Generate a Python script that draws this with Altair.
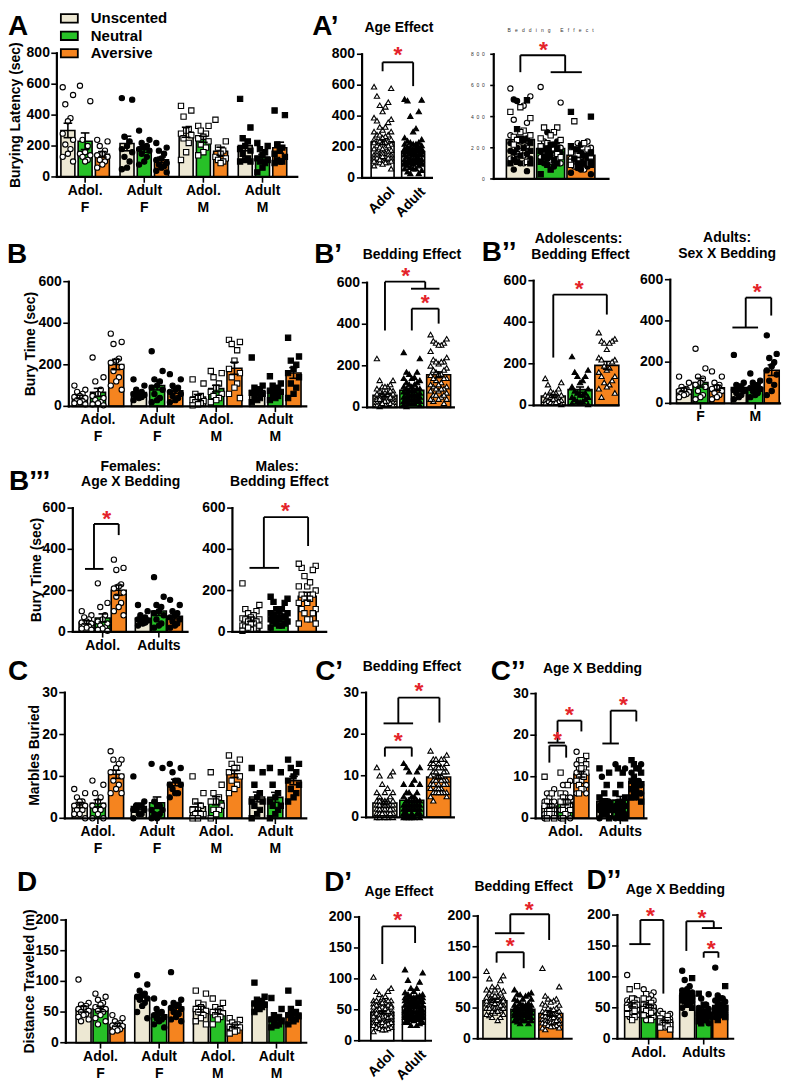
import altair as alt
import pandas as pd

# ---------------- values ----------------
# Burying latency (sec)  [Unscented, Neutral, Aversive] per age x sex group
lat_adolF_U = [580, 530, 470, 380, 360, 280, 240, 210, 180, 150, 130, 100]
lat_adolF_N = [590, 490, 240, 200, 160, 150, 140, 130, 110, 100]
lat_adolF_A = [240, 230, 200, 170, 150, 140, 130, 110, 100, 80, 60]
lat_adultF_U = [500, 510, 260, 230, 200, 180, 160, 130, 100, 60, 50]
lat_adultF_N = [300, 240, 220, 200, 190, 180, 170, 150, 130, 100, 80]
lat_adultF_A = [220, 190, 170, 150, 120, 110, 90, 80, 70, 60, 40, 30]
lat_adolM_U = [460, 430, 390, 310, 300, 280, 270, 250, 220, 160, 110]
lat_adolM_N = [330, 330, 300, 280, 260, 250, 230, 210, 190, 160, 140]
lat_adolM_A = [370, 230, 190, 170, 150, 130, 120, 110, 100, 90]
lat_adultM_U = [505, 320, 250, 230, 200, 180, 170, 150, 120, 110, 100, 100]
lat_adultM_N = [220, 200, 180, 160, 140, 120, 110, 100, 90, 60, 30]
lat_adultM_A = [430, 400, 210, 190, 170, 150, 130, 110, 100, 100, 90]

# Bury time (sec)
bury_adolF_U = [100, 80, 70, 60, 50, 45, 40, 30, 25, 20, 15, 10]
bury_adolF_N = [235, 140, 120, 80, 60, 50, 40, 30, 20, 15, 10, 5]
bury_adolF_A = [350, 310, 300, 230, 220, 210, 190, 170, 140, 120, 100, 80]
bury_adultF_U = [130, 100, 80, 70, 65, 60, 55, 50, 45, 40, 30]
bury_adultF_N = [265, 170, 130, 120, 100, 90, 80, 60, 40, 30, 20]
bury_adultF_A = [155, 130, 100, 90, 80, 70, 60, 50, 40, 30, 20]
bury_adolM_U = [130, 110, 60, 50, 40, 30, 25, 20, 15, 10, 5]
bury_adolM_N = [170, 160, 140, 110, 90, 70, 60, 50, 40, 30, 20]
bury_adolM_A = [320, 310, 300, 270, 220, 180, 160, 140, 110, 90, 60, 40]
bury_adultM_U = [235, 100, 90, 80, 70, 65, 60, 50, 40, 30, 20]
bury_adultM_N = [145, 110, 100, 90, 80, 75, 70, 60, 50, 40, 30]
bury_adultM_A = [330, 240, 220, 200, 180, 160, 140, 110, 90, 60, 40]

# Marbles buried
marb_adolF_U = [7, 6, 5, 4, 4, 3, 3, 2, 2, 1, 1, 0]
marb_adolF_N = [9, 8, 6, 5, 4, 3, 3, 2, 2, 1, 0, 0]
marb_adolF_A = [16, 14, 14, 13, 12, 11, 10, 9, 8, 7, 6, 6]
marb_adultF_U = [10, 4, 3, 3, 3, 2, 2, 2, 1, 1, 0]
marb_adultF_N = [13, 12, 4, 3, 3, 2, 2, 1, 1, 0, 0]
marb_adultF_A = [13, 12, 11, 9, 9, 8, 8, 7, 6, 6, 5]
marb_adolM_U = [10, 6, 4, 3, 2, 2, 1, 1, 1, 0, 0]
marb_adolM_N = [11, 8, 6, 5, 4, 4, 3, 2, 2, 1, 0]
marb_adolM_A = [15, 14, 13, 12, 12, 11, 10, 9, 8, 7, 6]
marb_adultM_U = [12, 11, 8, 6, 5, 4, 4, 3, 2, 1, 0]
marb_adultM_N = [12, 11, 8, 6, 5, 4, 3, 3, 2, 1, 0]
marb_adultM_A = [14, 13, 12, 11, 10, 9, 8, 7, 6, 5, 4]

# Distance traveled (m)
dist_adolF_U = [103, 65, 62, 60, 57, 55, 52, 50, 47, 45, 42, 38, 35]
dist_adolF_N = [80, 75, 70, 65, 62, 58, 55, 52, 50, 45, 40, 35, 30]
dist_adolF_A = [45, 40, 35, 32, 30, 28, 27, 25, 22, 20, 18]
dist_adultF_U = [110, 95, 85, 80, 78, 75, 72, 70, 65, 60, 50, 40]
dist_adultF_N = [72, 65, 55, 50, 48, 45, 42, 40, 38, 35, 30, 25]
dist_adultF_A = [115, 70, 65, 62, 60, 57, 55, 50, 47, 42, 38, 35]
dist_adolM_U = [85, 80, 65, 62, 58, 55, 52, 50, 45, 40, 35, 30]
dist_adolM_N = [72, 65, 58, 55, 52, 50, 48, 45, 42, 38, 30]
dist_adolM_A = [40, 37, 33, 30, 28, 26, 25, 22, 20, 18, 15]
dist_adultM_U = [98, 75, 70, 68, 66, 64, 62, 60, 58, 55, 50]
dist_adultM_N = [73, 55, 45, 42, 40, 38, 35, 33, 30, 28, 25]
dist_adultM_A = [85, 65, 55, 50, 48, 45, 43, 40, 38, 35, 30]

AGES = ["Adol", "Adult"]
SEXES = ["F", "M"]
BEDDINGS = ["Unscented", "Neutral", "Aversive"]
BED_COLORS = ["#EDE8D3", "#27C127", "#F5841F"]

series = [
    ("lat", 0, 0, [lat_adolF_U, lat_adolF_N, lat_adolF_A]),
    ("lat", 1, 0, [lat_adultF_U, lat_adultF_N, lat_adultF_A]),
    ("lat", 0, 1, [lat_adolM_U, lat_adolM_N, lat_adolM_A]),
    ("lat", 1, 1, [lat_adultM_U, lat_adultM_N, lat_adultM_A]),
    ("bury", 0, 0, [bury_adolF_U, bury_adolF_N, bury_adolF_A]),
    ("bury", 1, 0, [bury_adultF_U, bury_adultF_N, bury_adultF_A]),
    ("bury", 0, 1, [bury_adolM_U, bury_adolM_N, bury_adolM_A]),
    ("bury", 1, 1, [bury_adultM_U, bury_adultM_N, bury_adultM_A]),
    ("marb", 0, 0, [marb_adolF_U, marb_adolF_N, marb_adolF_A]),
    ("marb", 1, 0, [marb_adultF_U, marb_adultF_N, marb_adultF_A]),
    ("marb", 0, 1, [marb_adolM_U, marb_adolM_N, marb_adolM_A]),
    ("marb", 1, 1, [marb_adultM_U, marb_adultM_N, marb_adultM_A]),
    ("dist", 0, 0, [dist_adolF_U, dist_adolF_N, dist_adolF_A]),
    ("dist", 1, 0, [dist_adultF_U, dist_adultF_N, dist_adultF_A]),
    ("dist", 0, 1, [dist_adolM_U, dist_adolM_N, dist_adolM_A]),
    ("dist", 1, 1, [dist_adultM_U, dist_adultM_N, dist_adultM_A]),
]
rows = []
for m, a, s, lists in series:
    for b, vals in enumerate(lists):
        for v in vals:
            rows.append({"m": m, "a": a, "s": s, "g": 2 * s + a, "b": b, "v": v})
df = pd.DataFrame(rows)

# ---------------- layout / style ----------------
OFF = 8
W, H = 780, 1078
FONT = "Liberation Sans"
RED = "#E4232A"
NB = "\u00a0"

COL_BED = "['%s','%s','%s'][datum.b]" % tuple(BED_COLORS)
COL_WHITE = "'white'"
SHP_ORIG = "datum.s == 0 ? 'circle' : 'square'"
PF_AGE = "datum.a == 0 ? 'white' : 'black'"
PF_BED = "datum.b == 1 ? 'black' : 'white'"
PF_SEX = "datum.s == 0 ? 'white' : 'black'"
TRI = "'triangle-up'"


def panel(m, slot, ax0, ax1, c0, step, yb, yt, ymax, yticks, barw, shp, pf,
          col=COL_BED, filt=None, xvals=None, xlabels=None, rotate=False, xticks=False,
          ytitle=None, ytoff=40, brackets=(), hlines=(), stars=(), psize=28, spread=0.3,
          period=5, tiny=False, cap=4.5):
    xmin, xmax = (ax0 - c0) / step, (ax1 - c0) / step
    ppy = (yb - yt) / ymax
    xs = alt.Scale(domain=[xmin, xmax], range=[ax0 - OFF, ax1 - OFF], nice=False, zero=False)
    ys = alt.Scale(domain=[0, ymax], range=[yb - OFF, yt - OFF], nice=False, zero=False)
    X = lambda f: alt.X(f, scale=xs, axis=None)
    Y = lambda f: alt.Y(f, scale=ys, axis=None)

    base = alt.Chart(df).transform_filter("datum.m == '%s'" % m)
    if filt:
        base = base.transform_filter(filt)
    base = base.transform_calculate(xk=slot, col=col)

    cw = cap / step
    agg = base.transform_aggregate(
        mean="mean(v)", se="stderr(v)", groupby=["xk", "col"]
    ).transform_calculate(
        lo="datum.mean - datum.se", hi="datum.mean + datum.se",
        xl="datum.xk - %f" % cw, xr="datum.xk + %f" % cw,
    )
    bars = agg.mark_bar(size=barw, stroke="black", strokeWidth=1.6).encode(
        x=X("xk:Q"), y=Y("mean:Q"), fill=alt.Fill("col:N", scale=None))
    pattern = "[0,-1,1,-0.5,0.5]" if period == 5 else "[0,-1,1,-0.66,0.66,-0.33,0.33]"
    pts = base.transform_window(
        r="row_number()", groupby=["xk"], sort=[alt.SortField("v", order="descending")]
    ).transform_calculate(
        xj="datum.xk + %f * %s[datum.r %% %d]" % (spread, pattern, period),
        shp=shp, pf=pf,
    ).mark_point(filled=True, size=psize, stroke="black", strokeWidth=1.1, opacity=1).encode(
        x=X("xj:Q"), y=Y("v:Q"),
        shape=alt.Shape("shp:N", scale=None), fill=alt.Fill("pf:N", scale=None))
    err = agg.mark_rule(color="black", strokeWidth=1.6).encode(
        x=X("xk:Q"), y=Y("lo:Q"), y2="hi:Q")
    capt = agg.mark_rule(color="black", strokeWidth=1.6).encode(
        x=X("xl:Q"), x2="xr:Q", y=Y("hi:Q"))
    capb = agg.mark_rule(color="black", strokeWidth=1.6).encode(
        x=X("xl:Q"), x2="xr:Q", y=Y("lo:Q"))

    # ---- axes drawn through the panel scales ----
    axis_segs = [(xmin, 0, xmax, 0, 2.2), (xmin, 0, xmin, ymax, 2.2)]
    tick_len = 3 if tiny else 5
    for t in yticks:
        axis_segs.append((xmin - tick_len / step, t, xmin, t, 1.6))
    if xvals is not None and xticks:
        for v in xvals:
            axis_segs.append((v, 0, v, -5 / ppy, 1.6))
    adf = pd.DataFrame(axis_segs, columns=["x", "y", "x2", "y2", "w"])
    axes = alt.Chart(adf).mark_rule(color="black", strokeCap="square").encode(
        x=X("x:Q"), x2="x2:Q", y=Y("y:Q"), y2="y2:Q",
        strokeWidth=alt.StrokeWidth("w:Q", scale=None))

    if tiny:
        ylab = [(xmin, t, (NB * 2).join(str(t))) for t in yticks]
        ylab_layer = alt.Chart(pd.DataFrame(ylab, columns=["x", "y", "t"])).mark_text(
            font=FONT, fontSize=5, align="right", baseline="middle", dx=-9, color="#333333"
        ).encode(x=X("x:Q"), y=Y("y:Q"), text="t:N")
    else:
        ylab = [(xmin, t, str(t)) for t in yticks]
        ylab_layer = alt.Chart(pd.DataFrame(ylab, columns=["x", "y", "t"])).mark_text(
            font=FONT, fontSize=14, fontWeight="bold", align="right", baseline="middle", dx=-7,
            color="black"
        ).encode(x=X("x:Q"), y=Y("y:Q"), text="t:N")

    layers = [bars, pts, err, capt, capb, axes, ylab_layer]

    if ytitle:
        tdf = pd.DataFrame([(xmin - ytoff / step, ymax / 2, ytitle)], columns=["x", "y", "t"])
        layers.append(alt.Chart(tdf).mark_text(
            font=FONT, fontSize=14, fontWeight="bold", angle=270, align="center",
            baseline="middle", color="black"
        ).encode(x=X("x:Q"), y=Y("y:Q"), text="t:N"))

    if xvals is not None:
        if rotate:
            xdf = pd.DataFrame([(v + 6 / step, -7 / ppy, t) for v, t in zip(xvals, xlabels)],
                               columns=["x", "y", "t"])
            layers.append(alt.Chart(xdf).mark_text(
                font=FONT, fontSize=14, fontWeight="bold", angle=315, align="right",
                baseline="top", color="black"
            ).encode(x=X("x:Q"), y=Y("y:Q"), text="t:N"))
        else:
            xdf = pd.DataFrame([(v, 0, t) for v, t in zip(xvals, xlabels)],
                               columns=["x", "y", "t"])
            layers.append(alt.Chart(xdf).mark_text(
                font=FONT, fontSize=14, fontWeight="bold", align="center", baseline="top",
                dy=7, lineBreak="|", lineHeight=17, color="black"
            ).encode(x=X("x:Q"), y=Y("y:Q"), text="t:N"))

    segs = []
    for xa, ya, xb, yb2, ytop in brackets:
        segs += [(xa, ya, xa, ytop), (xa, ytop, xb, ytop), (xb, ytop, xb, yb2)]
    for x1, x2, yy in hlines:
        segs.append((x1, yy, x2, yy))
    if segs:
        sdf = pd.DataFrame(segs, columns=["x", "y", "x2", "y2"])
        layers.append(alt.Chart(sdf).mark_rule(color="black", strokeWidth=1.9).encode(
            x=X("x:Q"), x2="x2:Q", y=Y("y:Q"), y2="y2:Q"))
    if stars:
        stdf = pd.DataFrame(stars, columns=["x", "y"])
        layers.append(alt.Chart(stdf).mark_text(
            text="*", color=RED, font=FONT, fontSize=23, fontWeight="bold", dy=4
        ).encode(x=X("x:Q"), y=Y("y:Q")))
    return alt.layer(*layers)


MAIN_LABELS = ["Adol.|F", "Adult|F", "Adol.|M", "Adult|M"]
panels = [
    # A
    panel("lat", "datum.g * 3.43 + datum.b", 52, 303, 63.5, 18, 176, 52, 800,
          [0, 200, 400, 600, 800], 14, SHP_ORIG, PF_AGE,
          xvals=[g * 3.43 + 1 for g in range(4)], xlabels=MAIN_LABELS, xticks=True,
          ytitle="Burying Latency (sec)", ytoff=43),
    # A' age
    panel("lat", "datum.a", 358, 438, 381.5, 35, 177, 53, 800,
          [0, 200, 400, 600, 800], 23, TRI, PF_AGE, col=COL_WHITE,
          xvals=[0, 1], xlabels=["Adol", "Adult"], rotate=True,
          brackets=[(0, 690, 1, 594, 748)], stars=[(0.5, 819)],
          psize=28, spread=0.28, period=7),
    # A' bedding
    panel("lat", "datum.b", 490, 615, 519, 33, 178, 53, 800,
          [0, 200, 400, 600, 800], 28, SHP_ORIG, PF_AGE, tiny=True,
          brackets=[(0, 685, 1.48, 685, 794)], hlines=[(1.0, 2.03, 685)],
          stars=[(0.76, 850)], psize=28, spread=0.33, period=7),
    # B
    panel("bury", "datum.g * 3.25 + datum.b", 64, 312, 75.5, 19, 406, 281, 600,
          [0, 200, 400, 600], 15, SHP_ORIG, PF_AGE,
          xvals=[g * 3.25 + 1 for g in range(4)], xlabels=MAIN_LABELS, xticks=True,
          ytitle="Bury Time (sec)", ytoff=40),
    # B'
    panel("bury", "datum.b", 363, 460, 383, 30, 407, 282, 600,
          [0, 200, 400, 600], 24, TRI, PF_BED,
          brackets=[(0, 370, 1.5, 571, 605), (1, 370, 2, 403, 475)],
          hlines=[(0.97, 2.03, 571)], stars=[(0.77, 653), (1.5, 523)],
          psize=28, spread=0.3, period=7),
    # B'' adolescents
    panel("bury", "datum.b", 530, 625, 552, 30, 405, 280, 600,
          [0, 200, 400, 600], 24, TRI, PF_BED, filt="datum.a == 0",
          brackets=[(0, 230, 2, 437, 533)], stars=[(0.97, 581)],
          psize=28, spread=0.3, period=7),
    # B'' adults
    panel("bury", "datum.s * 3.33 + datum.b", 667, 787, 682, 18, 403, 279, 600,
          [0, 200, 400, 600], 15, "'circle'", PF_SEX, filt="datum.a == 1",
          xvals=[1, 4.33], xlabels=["F", "M"], xticks=True,
          brackets=[(3.75, 368, 5.3, 426, 513)], hlines=[(2.94, 4.5, 368)],
          stars=[(4.45, 561)]),
    # B''' females
    panel("bury", "datum.a * 3.5 + datum.b", 68, 193, 83, 17.5, 632, 508, 600,
          [0, 200, 400, 600], 15, "'circle'", PF_AGE, filt="datum.s == 0",
          xvals=[1, 4.5], xlabels=["Adol.", "Adults"], xticks=True,
          ytitle="Bury Time (sec)", ytoff=39,
          brackets=[(0.46, 305, 2, 469, 523)], hlines=[(-0.1, 1.05, 305)],
          stars=[(1.26, 566)]),
    # B''' males
    panel("bury", "datum.b", 228, 332, 248.5, 31.25, 632, 508, 600,
          [0, 200, 400, 600], 18, "'square'", PF_BED, filt="datum.s == 1",
          brackets=[(0.46, 310, 2.03, 416, 556)], hlines=[(-0.05, 1.0, 310)],
          stars=[(1.23, 605)], psize=28, spread=0.3, period=7),
    # C
    panel("marb", "datum.g * 3.25 + datum.b", 60, 312, 75.5, 19, 819, 693, 30,
          [0, 10, 20, 30], 15, SHP_ORIG, PF_AGE,
          xvals=[g * 3.25 + 1 for g in range(4)], xlabels=MAIN_LABELS, xticks=True,
          ytitle="Marbles Buried", ytoff=31),
    # C'
    panel("marb", "datum.b", 362, 460, 383, 30, 818, 693, 30,
          [0, 10, 20, 30], 24, TRI, PF_BED,
          brackets=[(0, 14.6, 1, 14.6, 16.8), (0.5, 22.6, 2.03, 22.8, 28.8)],
          hlines=[(-0.05, 1.05, 22.6)], stars=[(0.5, 19.4), (1.27, 31.4)],
          psize=28, spread=0.3, period=7),
    # C''
    panel("marb", "datum.a * 3.43 + datum.b", 532, 653, 547, 17.5, 819, 694, 30,
          [0, 10, 20, 30], 15, SHP_ORIG, PF_AGE,
          xvals=[1, 4.43], xlabels=["Adol.", "Adults"], xticks=True,
          brackets=[(0, 13.4, 1.05, 14.6, 17.5), (0.51, 18.2, 2, 20.9, 23.5),
                    (3.83, 18, 5.43, 23.3, 25.9)],
          hlines=[(-0.1, 0.97, 18.2), (3.31, 4.34, 18)],
          stars=[(0.51, 19.7), (1.26, 25.9), (4.63, 28.3)]),
    # D
    panel("dist", "datum.g * 3.46 + datum.b", 61, 312, 79.5, 17.7, 1044, 921, 200,
          [0, 50, 100, 150, 200], 15, SHP_ORIG, PF_AGE,
          xvals=[g * 3.46 + 1 for g in range(4)], xlabels=MAIN_LABELS, xticks=True,
          ytitle="Distance Traveled (m)", ytoff=37),
    # D' age
    panel("dist", "datum.a", 355, 437, 381.5, 36, 1042, 918, 200,
          [0, 50, 100, 150, 200], 23, TRI, PF_AGE, col=COL_WHITE,
          xvals=[0, 1], xlabels=["Adol", "Adult"], rotate=True,
          brackets=[(0, 124, 1.04, 158, 185)], stars=[(0.49, 202)],
          psize=28, spread=0.28, period=7),
    # D' bedding
    panel("dist", "datum.b", 474, 578, 493, 31, 1040, 917, 200,
          [0, 50, 100, 150, 200], 24, TRI, PF_BED,
          brackets=[(0.06, 124, 1.03, 115, 141), (0.55, 172, 1.94, 161, 203)],
          hlines=[(0, 1.06, 172)], stars=[(0.55, 158), (1.23, 216)],
          psize=28, spread=0.3, period=7),
    # D''
    panel("dist", "datum.a * 3.33 + datum.b", 614, 740, 630, 18, 1040, 916, 200,
          [0, 50, 100, 150, 200], 15, SHP_ORIG, PF_AGE,
          xvals=[1, 4.33], xlabels=["Adol.", "Adults"], xticks=True,
          brackets=[(0.5, 153, 1.89, 73, 192), (3.28, 142, 4.94, 179, 190),
                    (4.33, 131, 5.22, 131, 140)],
          hlines=[(-0.17, 1.11, 153), (4.22, 5.44, 179)],
          stars=[(1.11, 205), (4.22, 202), (4.78, 152)]),
]

# ---------------- annotations (page coordinates) ----------------
letters = [("A", 8, 34), ("A\u2019", 313, 34), ("B", 7, 262), ("B\u2019", 315, 262),
           ("B\u2019\u2019", 483, 260), ("B\u2019\u2019\u2019", 9, 490), ("C", 8, 680),
           ("C\u2019", 316, 680), ("C\u2019\u2019", 492, 680), ("D", 17, 892),
           ("D\u2019", 325, 892), ("D\u2019\u2019", 588, 890)]
titles = [("Age Effect", 400, 31), ("Bedding Effect", 413, 258), ("Adolescents:", 580, 242),
          ("Bedding Effect", 582, 258), ("Adults:", 729, 241), ("Sex X Bedding", 729, 257),
          ("Females:", 131, 471), ("Age X Bedding", 131, 486), ("Males:", 278, 471),
          ("Bedding Effect", 280, 486), ("Bedding Effect", 413, 671),
          ("Age X Bedding", 594, 673), ("Age Effect", 400, 897),
          ("Bedding Effect", 525, 892), ("Age X Bedding", 677, 895)]
tiny_title = [((NB * 3).join("Bedding Effect"), 552, 31)]

ldf = pd.DataFrame([(t, x - OFF, y - OFF) for t, x, y in letters], columns=["t", "x", "y"])
tdf = pd.DataFrame([(t, x - OFF, y - OFF) for t, x, y in titles], columns=["t", "x", "y"])
ttdf = pd.DataFrame([(t, x - OFF, y - OFF) for t, x, y in tiny_title], columns=["t", "x", "y"])

XN = alt.X("x:Q", scale=None, axis=None)
YN = alt.Y("y:Q", scale=None, axis=None)
letter_layer = alt.Chart(ldf).mark_text(font=FONT, fontSize=28, fontWeight="bold", align="left",
                                        baseline="alphabetic", color="black").encode(x=XN, y=YN, text="t:N")
title_layer = alt.Chart(tdf).mark_text(font=FONT, fontSize=14, fontWeight="bold", align="center",
                                       baseline="alphabetic", color="black").encode(x=XN, y=YN, text="t:N")
tiny_layer = alt.Chart(ttdf).mark_text(font=FONT, fontSize=5, align="center",
                                       baseline="alphabetic", color="#333333").encode(x=XN, y=YN, text="t:N")

legend_df = pd.DataFrame({"lab": BEDDINGS, "col": BED_COLORS, "i": [0, 1, 2]})
LEG_Y0 = 17 - OFF
LEG_DY = 17.5
leg_base = alt.Chart(legend_df).transform_calculate(
    yc="%f + datum.i * %f" % (LEG_Y0, LEG_DY),
    y0="%f + datum.i * %f - 4.2" % (LEG_Y0, LEG_DY),
    y1="%f + datum.i * %f + 4.2" % (LEG_Y0, LEG_DY),
)
leg_rect = leg_base.mark_rect(stroke="black", strokeWidth=1.8).encode(
    x=alt.value(61 - OFF), x2=alt.value(78 - OFF),
    y=alt.Y("y0:Q", scale=None, axis=None), y2="y1:Q",
    fill=alt.Fill("col:N", scale=None),
)
leg_text = leg_base.mark_text(font=FONT, fontSize=15, fontWeight="bold", align="left",
                              baseline="middle", color="black").encode(
    x=alt.value(91 - OFF), y=alt.Y("yc:Q", scale=None, axis=None), text="lab:N")

chart = alt.layer(
    *panels, leg_rect, leg_text, letter_layer, title_layer, tiny_layer
).resolve_scale(
    x="independent", y="independent"
).properties(
    width=W, height=H, padding=0, autosize=alt.AutoSizeParams(type="none")
).configure_view(
    stroke=None
)

chart.save("out.html", embed_options={"renderer": "svg", "actions": False})
